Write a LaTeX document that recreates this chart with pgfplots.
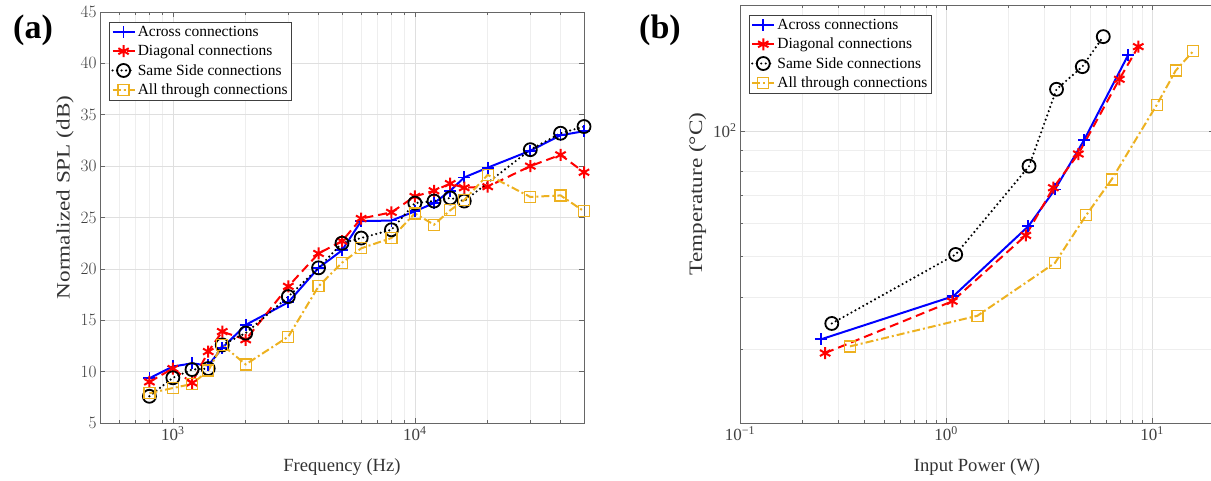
\documentclass[border=0pt]{standalone}
\usepackage{fontspec}
\setmainfont{Liberation Serif}
\usepackage{pgfplots}
\pgfplotsset{compat=1.18}
\definecolor{mblue}{rgb}{0,0,1}
\definecolor{mred}{rgb}{1,0,0}
\definecolor{myellow}{rgb}{0.929,0.694,0.125}
\definecolor{axgray}{gray}{0.4}

\pgfplotsset{
  mystyle/.style={
    scale only axis,
    axis line style={axgray, line width=0.7pt},
    tick style={axgray, line width=0.5pt},
    tick align=inside,
    major tick length=5pt, minor tick length=3pt,
    major grid style={gray!25, line width=0.5pt},
    minor grid style={gray!13, line width=0.5pt},
    ticklabel style={font=\fontsize{17}{19}\selectfont, color=black!75},
    xlabel style={font=\fontsize{18.6}{20}\selectfont, color=black!80, yshift=-11pt},
    ylabel style={font=\fontsize{19}{21}\selectfont, color=black!80, xshift=20pt, xscale=1.22},
    legend style={font=\fontsize{15.5}{18}\selectfont, draw=black!75, line width=0.7pt,
      anchor=north west, inner sep=2pt, row sep=3pt, cells={anchor=west}},
    legend image code/.code={\draw[mark repeat=2,mark phase=2,##1] plot coordinates {(0pt,0pt) (11pt,0pt) (22pt,0pt)};},
  },
  sA/.style={mblue, solid, line width=2pt, mark=+, mark size=6pt, mark options={solid, line width=1.8pt}},
  sD/.style={mred, dashed, dash pattern=on 9pt off 5pt, line width=2pt, mark=asterisk, mark size=6pt, mark options={solid, line width=2pt}},
  sS/.style={black, line width=2.4pt, dash pattern=on 0pt off 4.5pt, line cap=round, mark=o, mark size=6.5pt, mark options={solid, line width=1.8pt}},
  sT/.style={myellow, line width=2pt, dash pattern=on 8pt off 3pt on 2pt off 3pt, mark=square, mark size=5.5pt, mark options={solid, line width=1.3pt}},
}

\begin{document}
\begin{tikzpicture}[x=1pt,y=1pt]
\useasboundingbox (0,0) rectangle (1211,481);

\node[font=\fontsize{34}{36}\selectfont\bfseries] at (33,451) {(a)};
\node[font=\fontsize{34}{36}\selectfont\bfseries] at (660,451) {(b)};

\begin{axis}[mystyle,
  at={(100pt,58pt)}, anchor=south west,
  width=484pt, height=411pt,
  xmode=log, xmin=500, xmax=50000,
  ymin=5, ymax=45,
  ytick={5,10,...,45},
  xtick={1000,10000}, xticklabels={10\textsuperscript{3},10\textsuperscript{4}},
  minor xtick={600,700,800,900,2000,3000,4000,5000,6000,7000,8000,9000,20000,30000,40000},
  xmajorgrids, xminorgrids, ymajorgrids,
  xlabel={Frequency (Hz)}, ylabel={Normalized SPL (dB)},
  legend style={at={(0.0186,0.9757)}},
]
\addplot[sA] coordinates {(800,9.35)(1000,10.5)(1200,10.8)(1400,10.6)(1600,12.3)(2000,14.55)(3000,16.75)(4000,20.1)(5000,21.8)(6000,24.65)(8000,24.7)(10000,25.6)(12000,26.4)(14000,27.6)(16000,28.9)(20000,29.85)(30000,31.5)(40000,33.0)(50000,33.4)};
\addlegendentry{Across connections}
\addplot[sD] coordinates {(800,9.0)(1000,10.3)(1200,8.9)(1400,11.95)(1600,13.9)(2000,13.1)(3000,18.3)(4000,21.5)(5000,22.7)(6000,24.9)(8000,25.5)(10000,27.05)(12000,27.6)(14000,28.3)(16000,27.9)(20000,28.0)(30000,30.0)(40000,31.1)(50000,29.4)};
\addlegendentry{Diagonal connections}
\addplot[sS] coordinates {(800,7.6)(1000,9.4)(1200,10.2)(1400,10.3)(1600,12.6)(2000,13.75)(3000,17.3)(4000,20.1)(5000,22.5)(6000,23.0)(8000,23.8)(10000,26.4)(12000,26.6)(14000,26.9)(16000,26.6)(30000,31.6)(40000,33.2)(50000,33.85)};
\addlegendentry{Same Side connections}
\addplot[sT] coordinates {(800,7.9)(1000,8.4)(1200,8.8)(1400,10.1)(1600,12.6)(2000,10.7)(3000,13.4)(4000,18.3)(5000,20.6)(6000,22.0)(8000,23.0)(10000,25.4)(12000,24.3)(14000,25.7)(16000,26.7)(20000,29.15)(30000,27.0)(40000,27.15)(50000,25.6)};
\addlegendentry{All through connections}
\end{axis}

\begin{axis}[mystyle,
  at={(740pt,58pt)}, anchor=south west,
  width=474pt, height=418pt,
  xmode=log, ymode=log, xmin=0.1, xmax=20, ymin=20, ymax=200,
  xtick={0.1,1,10}, xticklabels={10\textsuperscript{−1},10\textsuperscript{0},10\textsuperscript{1}},
  minor xtick={0.2,0.3,0.4,0.5,0.6,0.7,0.8,0.9,2,3,4,5,6,7,8,9},
  ytick={100}, yticklabels={10\textsuperscript{2}},
  minor ytick={30,40,50,60,70,80,90},
  xmajorgrids, xminorgrids, ymajorgrids, yminorgrids,
  xlabel={Input Power (W)}, ylabel={Temperature (°C)},
  legend style={at={(0.0184,0.976)}},
]
\addplot[sA] coordinates {(0.247,31.7)(1.085,40.2)(2.51,59.1)(3.38,72.4)(4.68,95)(7.67,152)};
\addlegendentry{Across connections}
\addplot[sD] coordinates {(0.259,29.4)(1.073,39.1)(2.44,56.2)(3.32,73.1)(4.39,88)(6.94,132.8)(8.58,159)};
\addlegendentry{Diagonal connections}
\addplot[sS] coordinates {(0.279,34.6)(1.114,50.6)(2.53,82.3)(3.44,125.7)(4.59,142.4)(5.8,168)};
\addlegendentry{Same Side connections}
\addplot[sT] coordinates {(0.342,30.5)(1.42,36.1)(3.38,48.3)(4.79,62.8)(6.37,76.5)(10.54,115.3)(13.03,139.3)(15.87,155.2)};
\addlegendentry{All through connections}
\end{axis}
\end{tikzpicture}
\end{document}
